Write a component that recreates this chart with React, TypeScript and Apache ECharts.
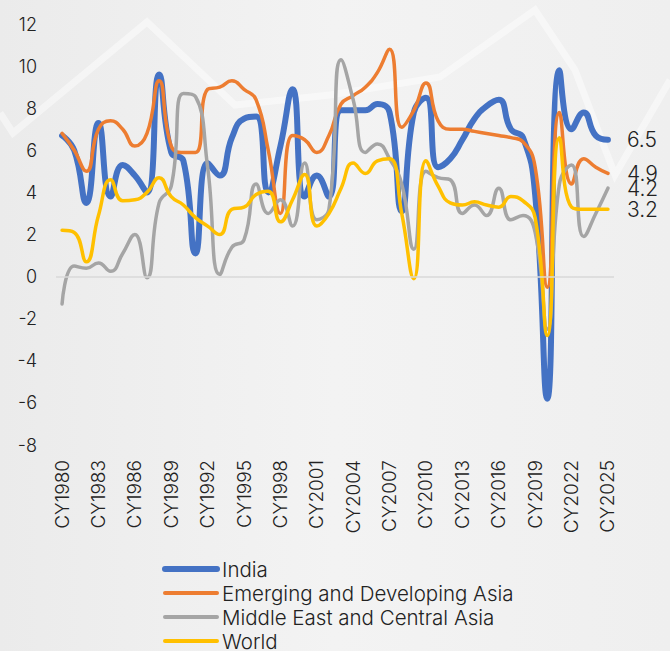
import React, { useEffect, useRef } from "react";
import * as echarts from "echarts";

const years: string[] = [];
for (let y = 1980; y <= 2025; y++) years.push("CY" + y);

const india = [6.7, 6.0, 3.5, 7.3, 3.8, 5.3, 4.8, 4.0, 9.6, 5.9, 5.5, 1.1, 5.4, 4.8, 6.6, 7.5, 7.6, 4.0, 6.2, 8.9, 3.8, 4.8, 3.8, 7.9, 7.9, 7.9, 8.2, 7.8, 3.1, 7.8, 8.5, 5.2, 5.6, 6.5, 7.5, 8.1, 8.4, 7.0, 6.6, 3.9, -5.8, 9.8, 7.0, 7.8, 6.7, 6.5];
const emergingAsia = [6.8, 6.0, 5.0, 7.0, 7.4, 7.0, 6.2, 6.8, 9.3, 6.2, 5.9, 5.9, 8.9, 9.0, 9.3, 8.9, 8.4, 6.0, 3.0, 6.7, 6.5, 5.9, 6.7, 8.2, 8.6, 9.0, 9.7, 10.8, 7.1, 7.9, 9.2, 7.4, 7.0, 7.0, 6.9, 6.8, 6.7, 6.6, 6.4, 5.2, -0.5, 7.8, 4.4, 5.6, 5.2, 4.9];
const middleEast = [-1.3, 0.5, 0.4, 0.65, 0.25, 1.1, 2.0, -0.05, 3.5, 4.3, 8.7, 8.55, 5.2, 0.1, 1.4, 1.75, 4.4, 3.0, 3.65, 2.4, 5.4, 2.7, 3.2, 10.3, 8.4, 5.9, 6.3, 5.6, 4.4, 1.3, 5.0, 4.7, 4.6, 3.0, 3.4, 2.9, 4.2, 2.7, 2.9, 2.1, -2.5, 4.4, 5.3, 1.9, 3.0, 4.2];
const world = [2.2, 2.1, 0.7, 2.9, 4.6, 3.6, 3.65, 4.0, 4.7, 3.8, 3.4, 2.8, 2.4, 2.0, 3.2, 3.3, 3.9, 4.05, 2.6, 3.65, 4.85, 2.4, 3.0, 4.2, 5.4, 4.9, 5.5, 5.6, 3.0, -0.1, 5.5, 4.3, 3.5, 3.4, 3.55, 3.4, 3.3, 3.8, 3.6, 2.8, -2.8, 6.6, 3.3, 3.2, 3.2, 3.2];

const seriesNames = ["India", "Emerging and Developing Asia", "Middle East and Central Asia", "World"];
const seriesColors = ["#4472C4", "#ED7D31", "#A5A5A5", "#FFC000"];
const seriesWidths = [6, 3.5, 3.5, 3.5];
const legendWidths = [6, 4, 4, 4];
const seriesData = [india, emergingAsia, middleEast, world];

const FONT = "Inter, 'Noto Sans', sans-serif";

export default function App() {
  const ref = useRef<HTMLDivElement>(null);
  useEffect(() => {
    if (!ref.current) return;
    const chart = echarts.init(ref.current, undefined, { renderer: "svg" });
    const series: any[] = seriesNames.map((name, i) => ({
      name,
      type: "line",
      smooth: true,
      showSymbol: false,
      symbol: "none",
      data: seriesData[i],
      lineStyle: { color: seriesColors[i], width: seriesWidths[i], cap: "round", join: "round" },
      itemStyle: { color: seriesColors[i] },
      endLabel: {
        show: true,
        distance: 19,
        formatter: (p: any) => String(p.value),
        fontFamily: FONT,
        fontSize: 21,
        fontWeight: 300,
        color: "#222",
      },
      markLine:
        i === 0
          ? {
              silent: true,
              symbol: "none",
              label: { show: false },
              lineStyle: { color: "#d8d8d8", width: 1.5, type: "solid" },
              data: [{ yAxis: 0 }],
            }
          : undefined,
    }));
    chart.setOption({
      animation: false,
      backgroundColor: new echarts.graphic.LinearGradient(0, 0, 1, 0, [
        { offset: 0, color: "#ebebeb" },
        { offset: 0.5, color: "#f3f3f3" },
        { offset: 1, color: "#efefef" },
      ]),
      graphic: [
        {
          type: "polyline",
          silent: true,
          z: -10,
          shape: {
            points: [
              [0, 113],
              [13, 133],
              [147, 22],
              [235, 105],
              [330, 95],
              [440, 77],
              [535, 10],
              [575, 70],
              [615, 175],
              [670, 80],
            ],
          },
          style: { stroke: "rgba(255,255,255,0.45)", lineWidth: 7, fill: null },
        },
      ],
      grid: { left: 56, right: 56, top: 24, bottom: 206 },
      legend: {
        orient: "vertical",
        left: 162,
        top: 558,
        height: 140,
        padding: 0,
        itemWidth: 52,
        itemHeight: 10,
        itemGap: 2,
        itemStyle: { opacity: 0 },
        textStyle: { fontFamily: FONT, fontSize: 20.5, fontWeight: 300, color: "#222", lineHeight: 22 },
        data: seriesNames.map((n, i) => ({
          name: n,
          lineStyle: { width: legendWidths[i], color: seriesColors[i], cap: "round" },
        })),
      },
      xAxis: {
        type: "category",
        data: years,
        boundaryGap: true,
        axisLine: { show: false, onZero: false },
        axisTick: { show: false },
        axisLabel: {
          rotate: 90,
          interval: 2,
          margin: 15,
          fontFamily: FONT,
          fontSize: 19,
          fontWeight: 300,
          color: "#222",
        },
      },
      yAxis: {
        type: "value",
        min: -8,
        max: 12,
        interval: 2,
        splitLine: { show: false },
        axisLine: { show: false },
        axisTick: { show: false },
        axisLabel: {
          margin: 19,
          fontFamily: FONT,
          fontSize: 18,
          fontWeight: 300,
          color: "#222",
        },
      },
      series,
    });
    return () => chart.dispose();
  }, []);
  return <div ref={ref} style={{ position: "fixed", left: 0, top: 0, width: 670, height: 651 }} />;
}
